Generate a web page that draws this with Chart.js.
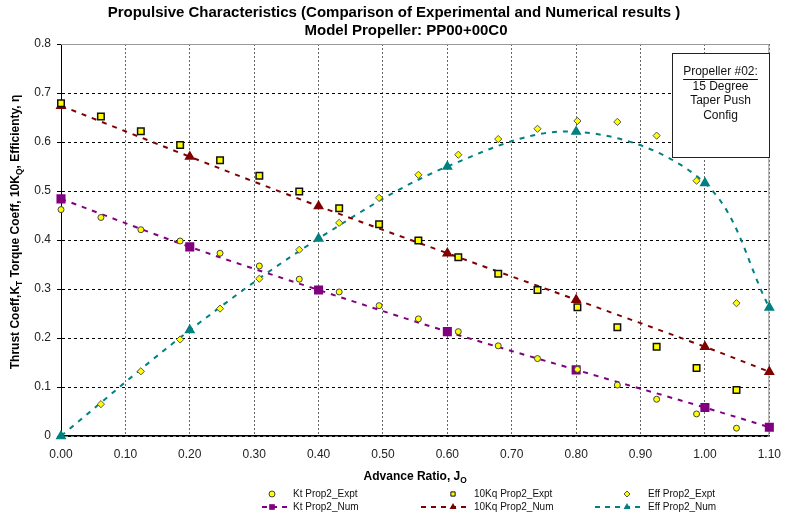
<!DOCTYPE html>
<html>
<head>
<meta charset="utf-8">
<script src="https://cdn.jsdelivr.net/npm/chart.js"></script>
<style>
  html, body { margin: 0; padding: 0; background: #fff; }
  #wrap { width: 792px; height: 516px; position: relative; }
</style>
</head>
<body>
<div id="wrap"><canvas id="propChart"></canvas></div>
<script>
// Advance ratio values for the experimental points (common to all three)
const exptJ = [0, 0.062, 0.124, 0.185, 0.247, 0.308, 0.370, 0.432, 0.494, 0.555, 0.617, 0.679, 0.740, 0.802, 0.864, 0.925, 0.987, 1.049];
const ktExpt = [0.462, 0.446, 0.421, 0.398, 0.373, 0.347, 0.320, 0.294, 0.266, 0.239, 0.213, 0.184, 0.158, 0.136, 0.104, 0.075, 0.045, 0.016];
const kqExpt = [0.679, 0.652, 0.622, 0.594, 0.563, 0.531, 0.499, 0.465, 0.432, 0.399, 0.365, 0.331, 0.298, 0.263, 0.222, 0.182, 0.139, 0.094];
const effExpt = [null, 0.065, 0.132, 0.197, 0.260, 0.321, 0.380, 0.435, 0.486, 0.533, 0.574, 0.606, 0.627, 0.643, 0.641, 0.613, 0.521, 0.271];

// Numerical results
const numJ = [0, 0.2, 0.4, 0.6, 0.8, 1.0, 1.1];
const ktNum = [0.484, 0.386, 0.298, 0.213, 0.135, 0.058, 0.018];
const kqNum = [0.674, 0.570, 0.469, 0.373, 0.278, 0.182, 0.131];
const effNum = [0, 0.216, 0.403, 0.550, 0.621, 0.516, 0.262];

const titleLines = ['Propulsive Characteristics (Comparison of Experimental and Numerical results )', 'Model Propeller: PP00+00C0'];
const noteLines = ['Propeller #02:', '15 Degree', 'Taper Push', 'Config'];

const FONT = "'Liberation Sans', Arial, sans-serif";

const toPoints = (xs, ys) => xs.map((x, i) => ({ x: x, y: ys[i] }));

const datasets = [
    {
        label: 'Kt Prop2_Expt',
        data: toPoints(exptJ, ktExpt),
        showLine: false,
        pointStyle: 'circle',
        pointRadius: 3,
        pointBackgroundColor: '#ffff00',
        pointBorderColor: '#444',
        pointBorderWidth: 1,
        borderColor: '#444',
        legendRow: 0, legendCol: 0
    },
    {
        label: '10Kq Prop2_Expt',
        data: toPoints(exptJ, kqExpt),
        showLine: false,
        pointStyle: 'rect',
        pointRadius: 4.6,
        pointBackgroundColor: '#ffff00',
        pointBorderColor: '#111',
        pointBorderWidth: 1.5,
        borderColor: '#111',
        legendRow: 0, legendCol: 1
    },
    {
        label: 'Eff Prop2_Expt',
        data: toPoints(exptJ, effExpt),
        showLine: false,
        pointStyle: 'rectRot',
        pointRadius: 3.6,
        pointBackgroundColor: '#ffff00',
        pointBorderColor: '#555',
        pointBorderWidth: 1,
        borderColor: '#555',
        legendRow: 0, legendCol: 2
    },
    {
        label: 'Kt Prop2_Num',
        data: toPoints(numJ, ktNum),
        borderColor: '#800080',
        backgroundColor: '#800080',
        borderWidth: 2,
        borderDash: [5, 6],
        tension: 0.35,
        pointStyle: 'rect',
        pointRadius: 5,
        pointBackgroundColor: '#800080',
        pointBorderColor: '#800080',
        legendRow: 1, legendCol: 0
    },
    {
        label: '10Kq Prop2_Num',
        data: toPoints(numJ, kqNum),
        borderColor: '#800000',
        backgroundColor: '#800000',
        borderWidth: 2,
        borderDash: [5, 6],
        tension: 0.35,
        pointStyle: 'triangle',
        pointRadius: 4.3,
        pointBackgroundColor: '#800000',
        pointBorderColor: '#800000',
        legendRow: 1, legendCol: 1
    },
    {
        label: 'Eff Prop2_Num',
        data: toPoints(numJ, effNum),
        borderColor: '#008080',
        backgroundColor: '#008080',
        borderWidth: 2,
        borderDash: [5, 6],
        tension: 0.35,
        pointStyle: 'triangle',
        pointRadius: 4.3,
        pointBackgroundColor: '#008080',
        pointBorderColor: '#008080',
        legendRow: 1, legendCol: 2
    }
];

// Small marker painter for the hand-made legend
function drawMarker(ctx, style, x, y, r, fill, stroke, lw) {
    ctx.save();
    ctx.setLineDash([]);
    ctx.fillStyle = fill;
    ctx.strokeStyle = stroke;
    ctx.lineWidth = lw;
    ctx.beginPath();
    if (style === 'circle') {
        ctx.arc(x, y, r, 0, Math.PI * 2);
    } else if (style === 'rect') {
        const s = r * Math.SQRT1_2;
        ctx.rect(x - s, y - s, 2 * s, 2 * s);
    } else if (style === 'rectRot') {
        ctx.moveTo(x, y - r); ctx.lineTo(x + r, y); ctx.lineTo(x, y + r); ctx.lineTo(x - r, y); ctx.closePath();
    } else if (style === 'triangle') {
        const h = r * 1.5;
        ctx.moveTo(x, y - r); ctx.lineTo(x + h * 0.577, y + r * 0.5); ctx.lineTo(x - h * 0.577, y + r * 0.5); ctx.closePath();
    }
    ctx.fill();
    if (lw > 0) ctx.stroke();
    ctx.restore();
}

// Draw text pieces with subscripts, centred on x
function drawRichText(ctx, parts, cx, cy, size) {
    let total = 0;
    parts.forEach(p => {
        ctx.font = 'bold ' + (p.sub ? size * 0.7 : size) + 'px ' + FONT;
        p.w = ctx.measureText(p.t).width;
        total += p.w;
    });
    let x = cx - total / 2;
    parts.forEach(p => {
        ctx.font = 'bold ' + (p.sub ? size * 0.7 : size) + 'px ' + FONT;
        ctx.fillText(p.t, x, p.sub ? cy + size * 0.3 : cy);
        x += p.w;
    });
}

const decorPlugin = {
    id: 'decor',
    beforeDatasetsDraw(chart) {
        const { ctx, chartArea: a } = chart;
        ctx.save();
        ctx.strokeStyle = '#999';
        ctx.lineWidth = 1;
        ctx.beginPath();
        ctx.moveTo(a.left, a.top + 0.5);
        ctx.lineTo(a.right - 0.5, a.top + 0.5);
        ctx.lineTo(a.right - 0.5, a.bottom);
        ctx.stroke();
        ctx.restore();
    },
    afterDraw(chart) {
        const { ctx, chartArea: a } = chart;
        ctx.save();
        ctx.fillStyle = '#000';
        ctx.textAlign = 'center';
        ctx.textBaseline = 'middle';

        // Title
        ctx.font = 'bold 15px ' + FONT;
        ctx.fillText(titleLines[0], 394, 13);
        ctx.fillText(titleLines[1], 406, 31);

        // Axis titles
        ctx.textAlign = 'left';
        drawRichText(ctx, [{ t: 'Advance Ratio, J' }, { t: 'O', sub: true }], (a.left + a.right) / 2, 477, 12);

        ctx.save();
        ctx.translate(16, 232);
        ctx.rotate(-Math.PI / 2);
        drawRichText(ctx, [
            { t: 'Thrust Coeff,K' }, { t: 'T', sub: true },
            { t: ' Torque Coeff, 10K' }, { t: 'Q', sub: true },
            { t: ', Efficienty, \u03b7' }
        ], 0, 0, 12);
        ctx.restore();

        // Note box
        const bx = 672, by = 53, bw = 97, bh = 104;
        ctx.fillStyle = '#fff';
        ctx.fillRect(bx, by, bw, bh);
        ctx.strokeStyle = '#222';
        ctx.lineWidth = 1;
        ctx.strokeRect(bx + 0.5, by + 0.5, bw, bh);
        ctx.fillStyle = '#111';
        ctx.textAlign = 'center';
        ctx.font = '12px ' + FONT;
        const cx = bx + bw / 2;
        noteLines.forEach((line, i) => {
            ctx.fillText(line, cx, 72 + i * 14.5);
        });
        const uw = ctx.measureText(noteLines[0]).width;
        ctx.fillRect(cx - uw / 2, 79, uw, 1);

        // Legend
        const colMarker = [272, 453, 627];
        const rowY = [494, 507];
        ctx.font = '10px ' + FONT;
        ctx.textAlign = 'left';
        chart.data.datasets.forEach(ds => {
            const mx = colMarker[ds.legendCol];
            const y = rowY[ds.legendRow];
            if (ds.legendRow === 1) {
                ctx.save();
                ctx.strokeStyle = ds.borderColor;
                ctx.lineWidth = 2;
                ctx.setLineDash([5, 5]);
                ctx.beginPath();
                ctx.moveTo(mx - (ds.legendCol === 0 ? 10 : 32), y);
                ctx.lineTo(mx + 18, y);
                ctx.stroke();
                ctx.restore();
            }
            const r = ds.legendRow === 1 ? 4 : 3;
            drawMarker(ctx, ds.pointStyle, mx, y, r, ds.pointBackgroundColor, ds.pointBorderColor, ds.legendRow === 1 ? 0 : 1);
            ctx.fillStyle = '#111';
            ctx.fillText(ds.label, mx + 21, y);
        });
        ctx.restore();
    }
};

const ctx = document.getElementById('propChart').getContext('2d');
new Chart(ctx, {
    type: 'line',
    data: { datasets: datasets },
    options: {
        responsive: true,
        maintainAspectRatio: false,
        animation: false,
        clip: false,
        layout: {
            autoPadding: false,
            padding: { left: 0, right: 13, top: 44, bottom: 50 }
        },
        plugins: {
            legend: { display: false },
            title: { display: false },
            tooltip: { enabled: false }
        },
        scales: {
            x: {
                type: 'linear',
                min: 0,
                max: 1.1,
                afterFit: (scale) => { scale.height = 30; },
                ticks: {
                    stepSize: 0.1,
                    autoSkip: false,
                    maxRotation: 0,
                    padding: 11,
                    color: '#222',
                    font: { family: FONT, size: 12 },
                    callback: (v) => Number(v).toFixed(2)
                },
                grid: {
                    color: '#666',
                    lineWidth: 1,
                    drawTicks: false
                },
                border: { color: '#000', width: 1.5, dash: [2, 2] }
            },
            y: {
                min: 0,
                max: 0.8,
                afterFit: (scale) => { scale.width = 61; },
                ticks: {
                    stepSize: 0.1,
                    padding: 6,
                    color: '#222',
                    font: { family: FONT, size: 12 },
                    callback: (v) => v === 0 ? '0' : Number(v).toFixed(1)
                },
                grid: {
                    color: '#000',
                    lineWidth: 1,
                    tickLength: 4,
                    tickColor: '#000'
                },
                border: { color: '#000', width: 1, dash: [3, 3] }
            }
        }
    },
    plugins: [decorPlugin]
});
</script>
</body>
</html>
